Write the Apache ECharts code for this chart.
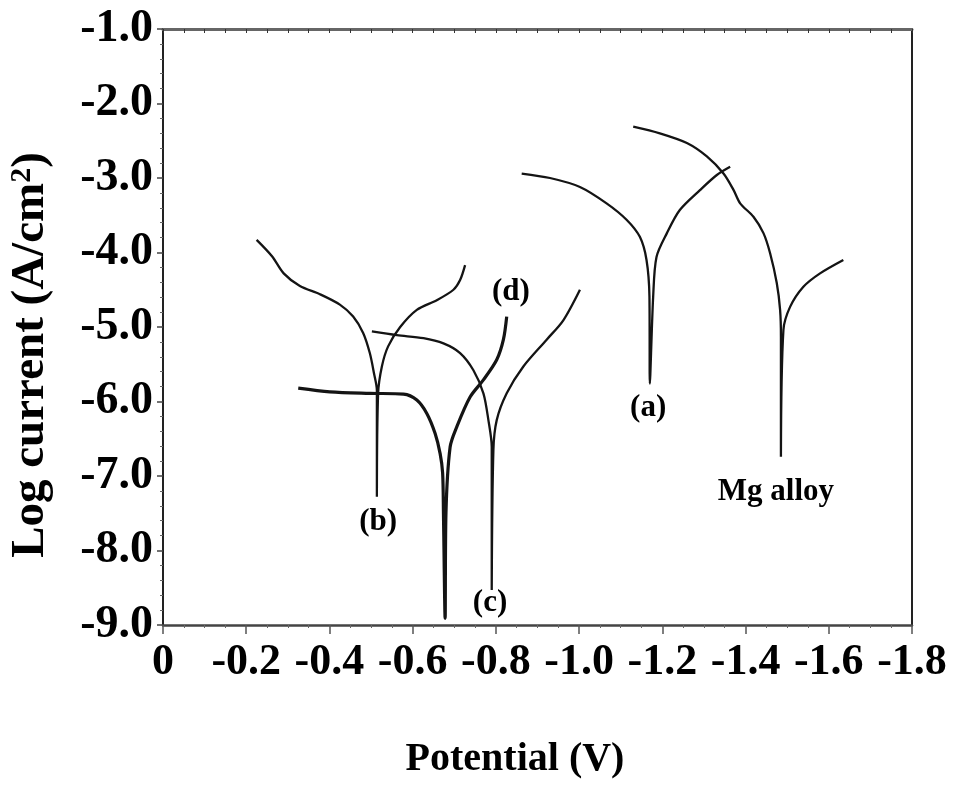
<!DOCTYPE html>
<html>
<head>
<meta charset="utf-8">
<script src="https://cdn.jsdelivr.net/npm/echarts@6/dist/echarts.min.js"></script>
<style>
html,body{margin:0;padding:0;background:#fff;}
#chart{width:955px;height:790px;}
</style>
</head>
<body>
<div id="chart"></div>
<script>
// ---- data (potential in V, log current in A/cm^2) ----
const curveMg_E = [-1.130,-1.194,-1.259,-1.307,-1.347,-1.371,-1.387,-1.419,-1.443,-1.459,-1.475,-1.483,-1.485,-1.485,-1.491,-1.507,-1.539,-1.579,-1.635];
const curveMg_logI = [-2.31,-2.40,-2.53,-2.71,-2.94,-3.16,-3.34,-3.52,-3.74,-4.01,-4.41,-4.77,-5.13,-6.74,-5.04,-4.73,-4.46,-4.28,-4.10];

const curveA_E = [-0.862,-0.930,-1.002,-1.066,-1.114,-1.146,-1.162,-1.169,-1.170,-1.178,-1.186,-1.211,-1.242,-1.291,-1.331,-1.363];
const curveA_logI = [-2.94,-3.00,-3.12,-3.34,-3.56,-3.79,-4.10,-4.59,-5.76,-4.59,-4.06,-3.74,-3.43,-3.16,-2.96,-2.85];

const curveB_E = [-0.225,-0.262,-0.290,-0.329,-0.377,-0.425,-0.457,-0.481,-0.497,-0.507,-0.514,-0.514,-0.517,-0.526,-0.541,-0.570,-0.610,-0.658,-0.698,-0.714,-0.726];
const curveB_logI = [-3.83,-4.05,-4.28,-4.45,-4.56,-4.70,-4.86,-5.08,-5.35,-5.62,-5.85,-7.28,-5.89,-5.53,-5.26,-5.00,-4.77,-4.64,-4.50,-4.37,-4.17];

const curveC_E = [-0.502,-0.562,-0.626,-0.674,-0.714,-0.746,-0.770,-0.782,-0.790,-0.790,-0.794,-0.802,-0.826,-0.866,-0.922,-0.962,-1.002];
const curveC_logI = [-5.06,-5.11,-5.15,-5.22,-5.35,-5.58,-5.89,-6.25,-6.61,-8.53,-6.65,-6.25,-5.89,-5.53,-5.17,-4.91,-4.50];

const curveD_E = [-0.325,-0.401,-0.497,-0.578,-0.610,-0.634,-0.654,-0.666,-0.672,-0.674,-0.678,-0.680,-0.690,-0.706,-0.738,-0.770,-0.802,-0.818,-0.826];
const curveD_logI = [-5.82,-5.87,-5.89,-5.90,-5.98,-6.16,-6.43,-6.70,-6.96,-7.50,-8.91,-7.50,-6.61,-6.34,-5.94,-5.71,-5.44,-5.17,-4.86];

const labelNames = ['(a)','Mg alloy','(b)','(c)','(d)'];
const labelE = [-1.166,-1.473,-0.517,-0.786,-0.836];
const labelLogI = [-6.09,-7.21,-7.62,-8.70,-4.53];

const xTitle = 'Potential (V)';
const yTitle = 'Log current (A/cm';

// ---- chart ----
const FONT = '"Liberation Serif","Times New Roman",serif';
function zip(xs, ys){ return xs.map((x,i)=>[x, ys[i]]); }
function curve(name, xs, ys, w){
  return {
    name: name, type: 'line', data: zip(xs, ys), showSymbol: false, smooth: 0.3,
    lineStyle: {color: '#141414', width: w}, z: 3, animation: false
  };
}

const chart = echarts.init(document.getElementById('chart'), null, {renderer: 'canvas'});
const axisLineStyle = {color: '#222', width: 2};
chart.setOption({
  backgroundColor: '#fff',
  animation: false,
  grid: {left: 163, top: 29, width: 749, height: 596, containLabel: false},
  xAxis: [{
    type: 'value', min: -1.8, max: 0, interval: 0.2, inverse: true, position: 'bottom',
    axisLine: {show: true, onZero: false, lineStyle: {color: '#444', width: 2.5}},
    axisTick: {show: true, inside: false, length: 9, lineStyle: {color: '#555', width: 1.5}},
    minorTick: {show: true, splitNumber: 4, length: 3, lineStyle: {color: '#666'}},
    splitLine: {show: false},
    axisLabel: {
      margin: 16, color: '#000', fontFamily: FONT, fontWeight: 'bold', fontSize: 44,
      formatter: v => (Math.abs(v) < 1e-9 ? '0' : v.toFixed(1))
    }
  },{
    type: 'value', min: -1.8, max: 0, interval: 0.2, inverse: true, position: 'top',
    axisLine: {show: true, onZero: false, lineStyle: {color: '#666', width: 3}},
    axisTick: {show: true, inside: true, length: 4, lineStyle: {color: '#333'}},
    minorTick: {show: true, splitNumber: 4, length: 4, lineStyle: {color: '#333'}},
    splitLine: {show: false}, axisLabel: {show: false}
  }],
  yAxis: [{
    type: 'value', min: -9, max: -1, interval: 1, position: 'left',
    axisLine: {show: true, onZero: false, lineStyle: axisLineStyle},
    axisTick: {show: true, inside: false, length: 6, lineStyle: {color: '#444', width: 1.5}},
    minorTick: {show: true, splitNumber: 5, length: 3, lineStyle: {color: '#666'}},
    splitLine: {show: false},
    axisLabel: {
      margin: 10, color: '#000', fontFamily: FONT, fontWeight: 'bold', fontSize: 46,
      formatter: v => v.toFixed(1)
    }
  },{
    type: 'value', min: -9, max: -1, interval: 1, position: 'right',
    axisLine: {show: true, onZero: false, lineStyle: axisLineStyle},
    axisTick: {show: false}, splitLine: {show: false}, axisLabel: {show: false}
  }],
  graphic: [{
    type: 'text', x: 515, y: 760,
    style: {text: xTitle, fill: '#000', font: 'bold 40px ' + FONT, align: 'center', verticalAlign: 'middle'}
  },{
    type: 'text', x: 31, y: 355, rotation: Math.PI/2,
    style: {
      text: '{m|' + yTitle + '}{s|2}{m|)}', align: 'center', verticalAlign: 'middle',
      rich: {
        m: {fill: '#000', fontFamily: FONT, fontWeight: 'bold', fontSize: 47, verticalAlign: 'bottom'},
        s: {fill: '#000', fontFamily: FONT, fontWeight: 'bold', fontSize: 30, verticalAlign: 'top', padding: [0,0,15,0]}
      }
    }
  }],
  series: [
    curve('Mg alloy', curveMg_E, curveMg_logI, 2.3),
    curve('(a)', curveA_E, curveA_logI, 2.3),
    curve('(b)', curveB_E, curveB_logI, 2.3),
    curve('(c)', curveC_E, curveC_logI, 2.3),
    curve('(d)', curveD_E, curveD_logI, 3.2),
    {
      name: 'labels', type: 'scatter', symbolSize: 0, z: 5,
      itemStyle: {opacity: 1},
      data: labelNames.map((n,i)=>({name: n, value: [labelE[i], labelLogI[i]]})),
      label: {
        show: true, position: 'inside', formatter: p => p.name, opacity: 1,
        color: '#000', fontFamily: FONT, fontWeight: 'bold', fontSize: 31
      },
      emphasis: {disabled: true}
    }
  ]
});
</script>
</body>
</html>
